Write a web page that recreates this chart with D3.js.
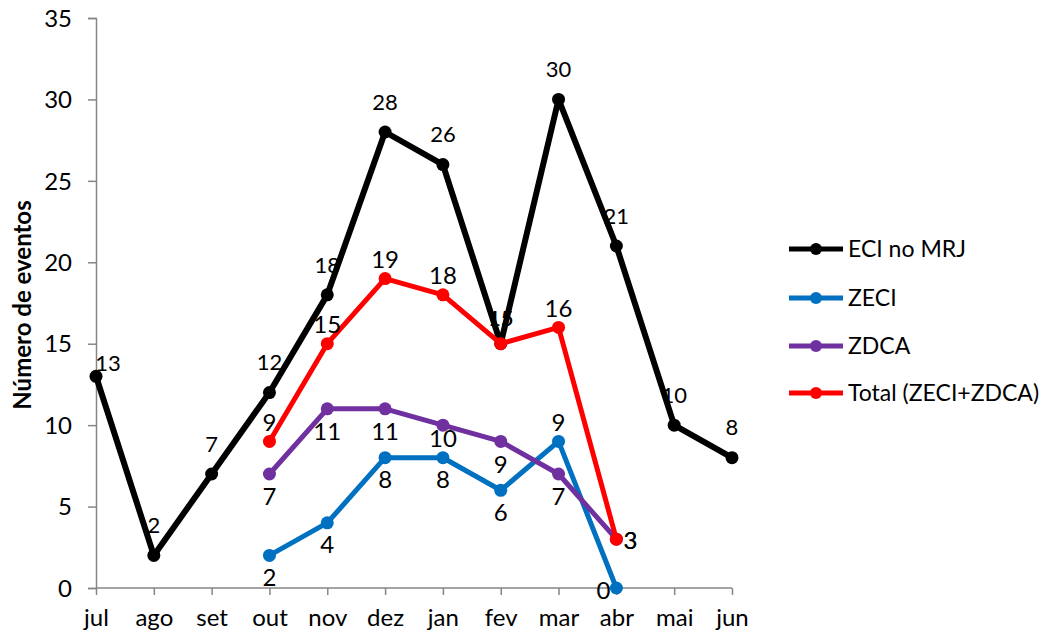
<!DOCTYPE html>
<html>
<head>
<meta charset="utf-8">
<script src="https://cdn.jsdelivr.net/npm/d3@7"></script>
<style>
  html, body { margin: 0; padding: 0; background: #fff; }
  svg { display: block; font-family: Lato, "Open Sans", sans-serif; }
</style>
</head>
<body>
<svg id="chart" width="1045" height="638"></svg>
<script>
// Monthly event counts, July to June
const months = ["jul", "ago", "set", "out", "nov", "dez", "jan", "fev", "mar", "abr", "mai", "jun"];
const eciMRJ = [13, 2, 7, 12, 18, 28, 26, 15, 30, 21, 10, 8];
const zeci   = [null, null, null, 2, 4, 8, 8, 6, 9, 0, null, null];
const zdca   = [null, null, null, 7, 11, 11, 10, 9, 7, 3, null, null];
const total  = [null, null, null, 9, 15, 19, 18, 15, 16, 3, null, null];
const yTicks = [0, 5, 10, 15, 20, 25, 30, 35];
const seriesNames = ["ECI no MRJ", "ZECI", "ZDCA", "Total (ZECI+ZDCA)"];

const svg = d3.select("#chart");
const plot = { left: 96, right: 732, top: 18, bottom: 588 };

const x = d3.scalePoint().domain(months).range([plot.left, plot.right]);
const y = d3.scaleLinear().domain([0, 35]).range([plot.bottom, plot.top]);

const axisColor = "#868686";

// Y axis
const yAxis = svg.append("g")
  .attr("transform", `translate(${plot.left},0)`)
  .call(d3.axisLeft(y).tickValues(yTicks).tickSize(8).tickPadding(16));
yAxis.select(".domain").attr("stroke", axisColor).attr("stroke-width", 1.5);
yAxis.selectAll(".tick line").attr("stroke", axisColor).attr("stroke-width", 1.5);
yAxis.selectAll(".tick text").attr("font-size", 24).attr("fill", "#000")
  .attr("font-family", "Lato, sans-serif").attr("dy", "0.34em");

// X axis
const xAxis = svg.append("g")
  .attr("transform", `translate(0,${plot.bottom})`)
  .call(d3.axisBottom(x).tickSize(7).tickPadding(14));
xAxis.select(".domain").attr("stroke", axisColor).attr("stroke-width", 1.5)
  .attr("d", `M${plot.left},0H${plot.right}`);
xAxis.selectAll(".tick line").attr("stroke", axisColor).attr("stroke-width", 1.5);
xAxis.selectAll(".tick text").attr("font-size", 24).attr("fill", "#000")
  .attr("font-family", "Lato, sans-serif");

// Y axis title
svg.append("text")
  .attr("transform", `translate(31,${(plot.top + plot.bottom) / 2 + 2}) rotate(-90)`)
  .attr("text-anchor", "middle")
  .attr("font-size", 24)
  .attr("font-weight", "bold")
  .text("Número de eventos");

// Series definitions
const series = [
  { name: seriesNames[0], values: eciMRJ, color: "#000000", width: 6, labelSize: 22 },
  { name: seriesNames[1], values: zeci,   color: "#0070C0", width: 5, labelSize: 24 },
  { name: seriesNames[2], values: zdca,   color: "#7030A0", width: 5, labelSize: 24 },
  { name: seriesNames[3], values: total,  color: "#FF0000", width: 5, labelSize: 24 }
];

const line = d3.line()
  .defined(d => d.v !== null)
  .x(d => x(d.m))
  .y(d => y(d.v));

series.forEach(s => {
  const pts = months.map((m, i) => ({ m, v: s.values[i] }));
  svg.append("path")
    .datum(pts)
    .attr("fill", "none")
    .attr("stroke", s.color)
    .attr("stroke-width", s.width)
    .attr("stroke-linejoin", "round")
    .attr("d", line);
  svg.append("g").selectAll("circle")
    .data(pts.filter(d => d.v !== null))
    .join("circle")
    .attr("cx", d => x(d.m))
    .attr("cy", d => y(d.v))
    .attr("r", 6.5)
    .attr("fill", s.color);
  s.pts = pts;
});

// Data label placement: each series has a default side, with a few exceptions
function placeLabel(sIdx, m) {
  if (sIdx === 0) {
    if (m === "jul") return { dx: 12, dy: -13 };
    if (m === "fev") return { dx: 0, dy: -25 };
    return { dx: 0, dy: -30 };
  }
  if (sIdx === 1) {
    if (m === "mar") return { dx: 0, dy: -19 };
    if (m === "abr") return { dx: -13, dy: 3 };
    return { dx: 0, dy: 22 };
  }
  if (sIdx === 2) {
    if (m === "abr") return { dx: 14, dy: 1 };
    if (m === "jan") return { dx: 0, dy: 13 };
    return { dx: 0, dy: 23 };
  }
  if (m === "abr") return { dx: 14, dy: 1 };
  if (m === "fev") return { dx: 0, dy: -25 };
  return { dx: 0, dy: -19 };
}

series.forEach((s, si) => {
  svg.append("g").selectAll("text")
    .data(s.pts.filter(d => d.v !== null))
    .join("text")
    .attr("x", d => x(d.m) + placeLabel(si, d.m).dx)
    .attr("y", d => y(d.v) + placeLabel(si, d.m).dy)
    .attr("dy", "0.35em")
    .attr("text-anchor", "middle")
    .attr("font-size", d => (si === 3 && d.m === "fev") ? 22 : s.labelSize)
    .attr("fill", "#000")
    .text(d => d.v);
});

// Legend
const legend = svg.append("g");
const legendY = [249, 298, 346, 393];
series.forEach((s, i) => {
  const g = legend.append("g").attr("transform", `translate(789,${legendY[i]})`);
  g.append("line").attr("x1", 0).attr("x2", 54).attr("y1", 0).attr("y2", 0)
    .attr("stroke", s.color).attr("stroke-width", 5);
  g.append("circle").attr("cx", 27).attr("cy", 0).attr("r", 6).attr("fill", s.color);
  g.append("text").attr("x", 59).attr("y", 0).attr("dy", "0.35em")
    .attr("font-size", 23).attr("fill", "#000").text(s.name);
});
</script>
</body>
</html>
